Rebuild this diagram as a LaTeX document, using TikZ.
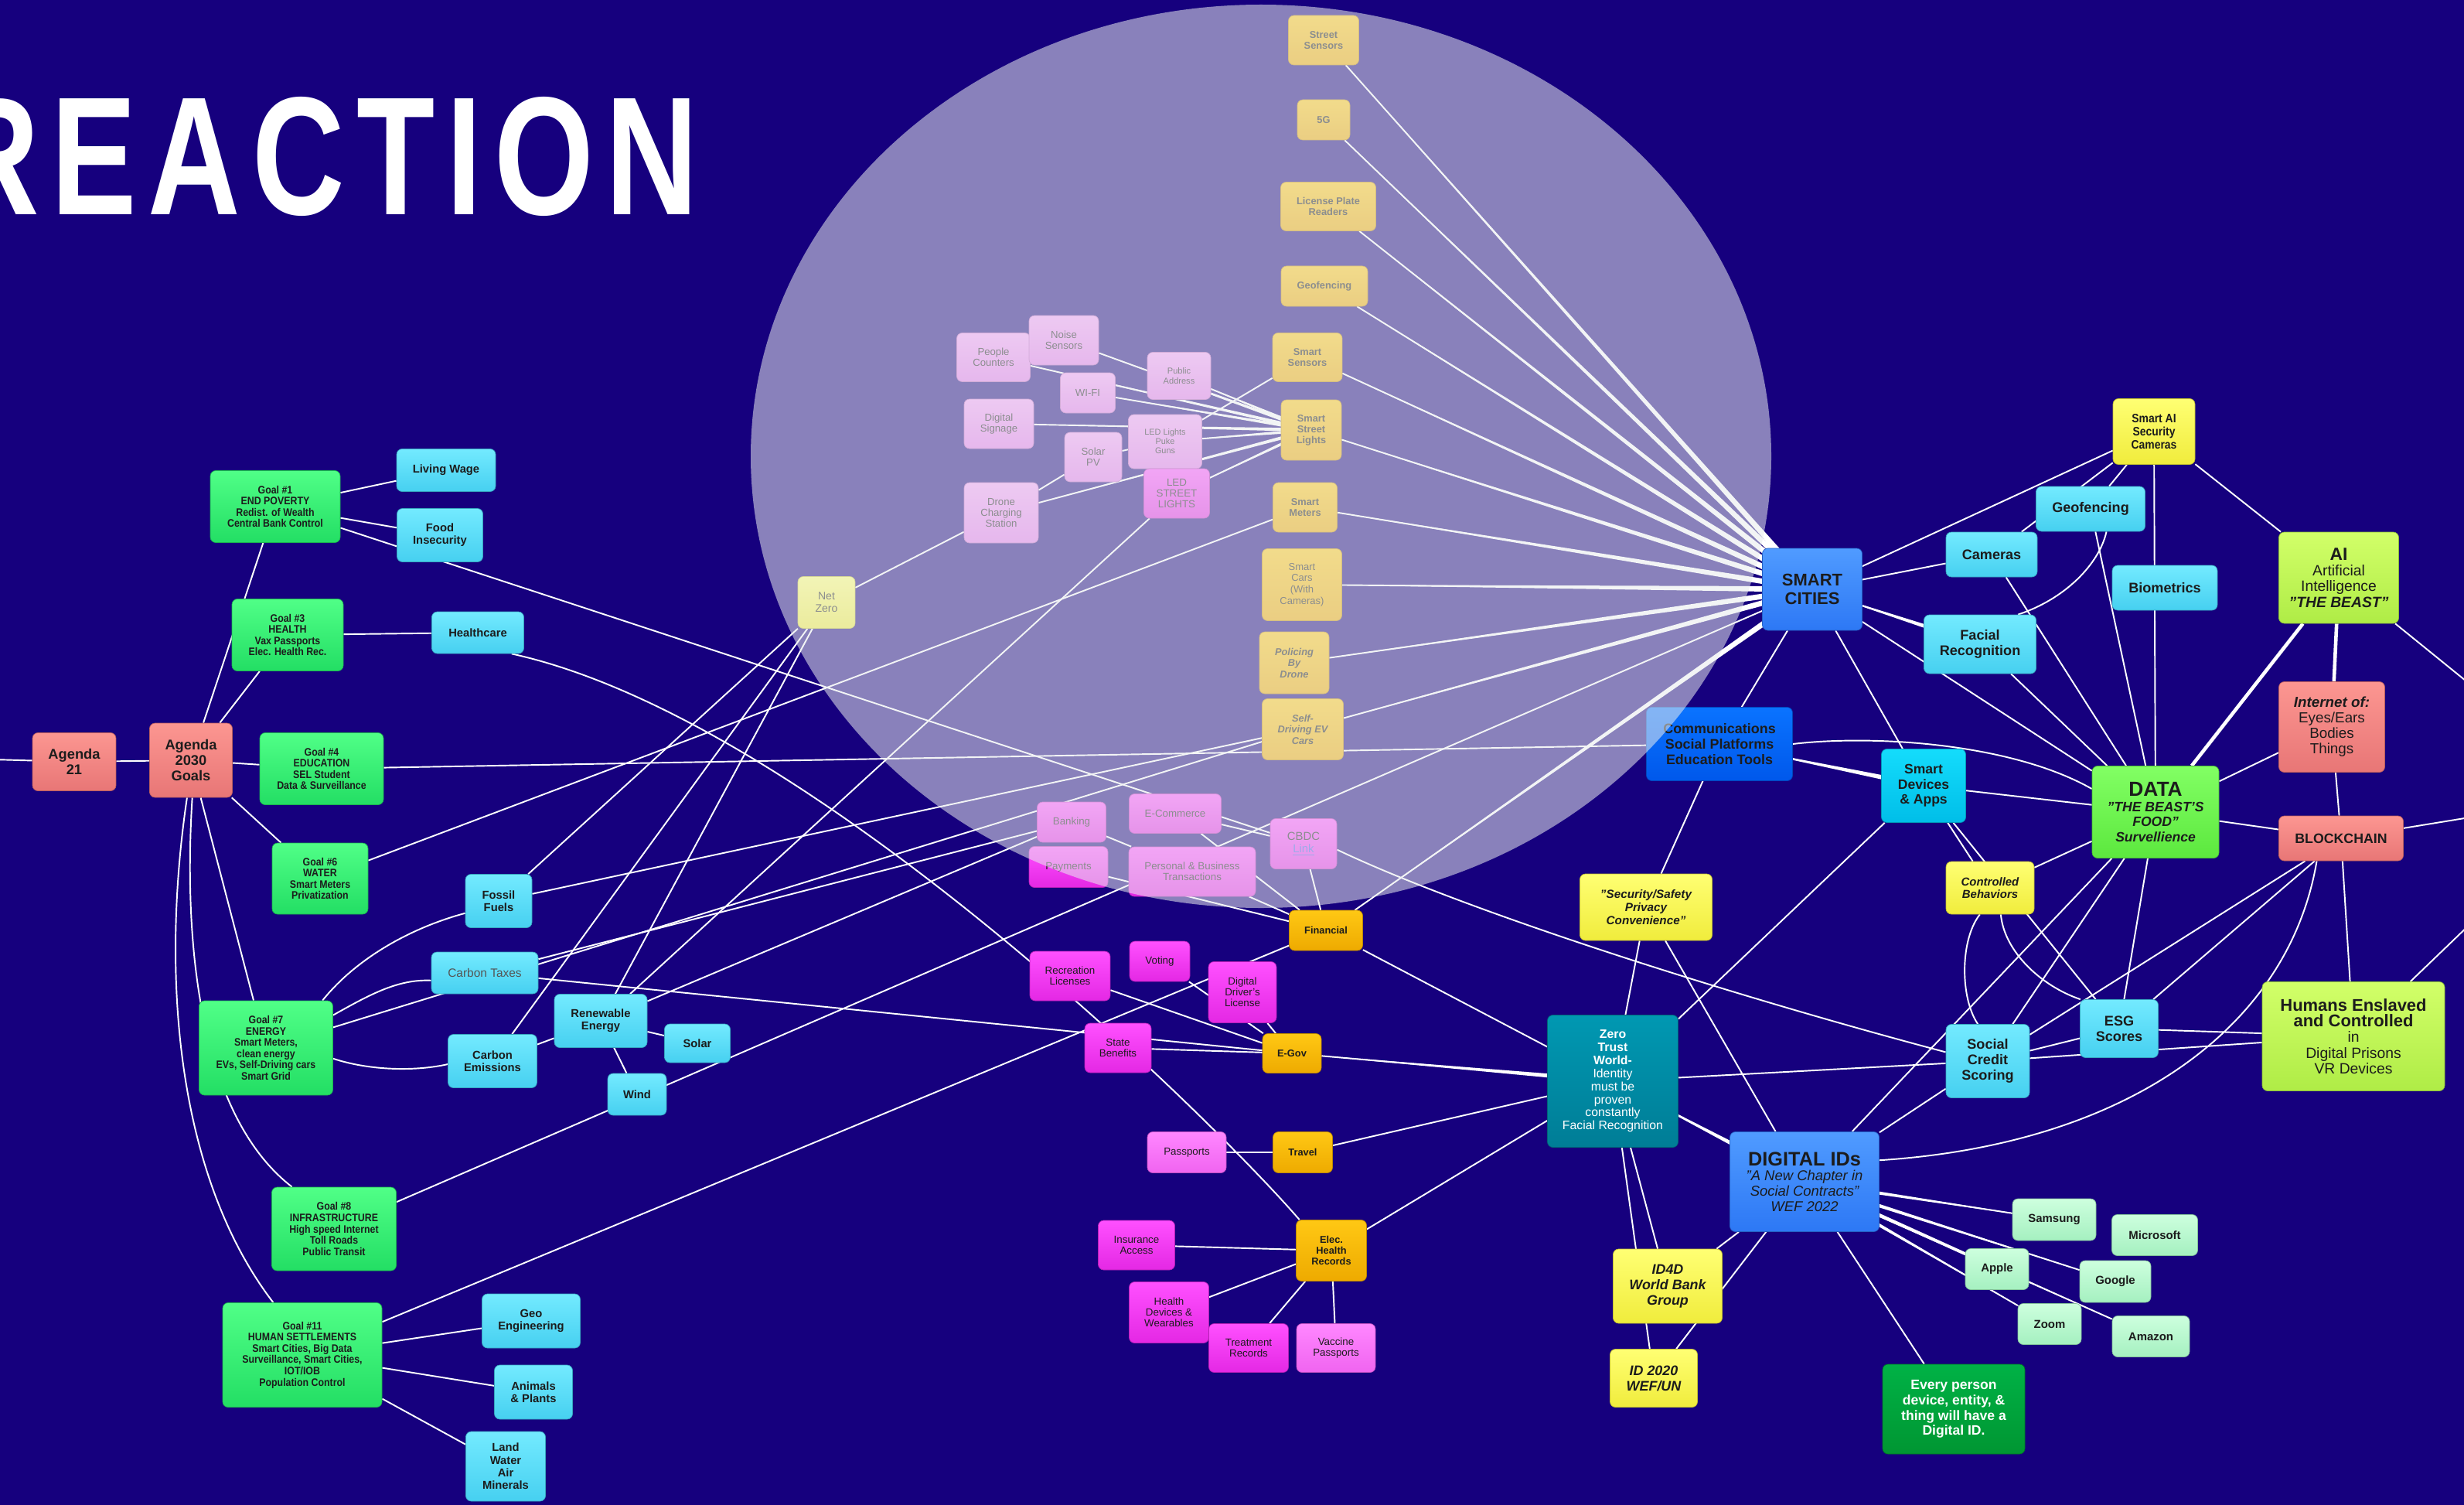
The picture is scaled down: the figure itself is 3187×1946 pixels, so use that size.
\documentclass[tikz,border=0pt]{standalone}
\usepackage{fontspec}
\setmainfont{Liberation Sans}
\newfontfamily\condfont{Liberation Sans}[FakeStretch=0.88]
\newfontfamily\titlefont{Liberation Sans}[FakeStretch=0.76,LetterSpace=7]
\usepackage{tikz}
\usetikzlibrary{calc}
\pgfdeclarelayer{canvas}
\pgfdeclarelayer{links}
\pgfdeclarelayer{front}
\pgfsetlayers{canvas,links,main,front}

\definecolor{bgblue}{RGB}{22,0,126}
\definecolor{ink}{RGB}{28,28,28}
\definecolor{goalT}{RGB}{80,255,135}
\definecolor{goalB}{RGB}{35,222,100}
\definecolor{salT}{RGB}{252,150,145}
\definecolor{salB}{RGB}{232,118,118}
\definecolor{skyT}{RGB}{115,234,255}
\definecolor{skyB}{RGB}{70,208,240}
\definecolor{goldT}{RGB}{255,200,20}
\definecolor{goldB}{RGB}{238,170,0}
\definecolor{lilT}{RGB}{245,160,248}
\definecolor{lilB}{RGB}{228,120,236}
\definecolor{magT}{RGB}{255,80,255}
\definecolor{magB}{RGB}{228,40,228}
\definecolor{roseT}{RGB}{255,135,255}
\definecolor{roseB}{RGB}{240,100,240}
\definecolor{lemT}{RGB}{255,255,115}
\definecolor{lemB}{RGB}{240,236,60}
\definecolor{limeT}{RGB}{210,255,105}
\definecolor{limeB}{RGB}{175,236,70}
\definecolor{dataT}{RGB}{130,255,100}
\definecolor{dataB}{RGB}{92,232,62}
\definecolor{royT}{RGB}{80,155,255}
\definecolor{royB}{RGB}{45,120,245}
\definecolor{comT}{RGB}{10,115,255}
\definecolor{comB}{RGB}{0,88,235}
\definecolor{devT}{RGB}{20,220,252}
\definecolor{devB}{RGB}{0,190,232}
\definecolor{tealT}{RGB}{0,152,178}
\definecolor{tealB}{RGB}{0,125,150}
\definecolor{greenT}{RGB}{0,178,70}
\definecolor{greenB}{RGB}{0,150,50}
\definecolor{mintT}{RGB}{205,255,222}
\definecolor{mintB}{RGB}{165,240,192}
\definecolor{veil}{RGB}{232,236,238}
\definecolor{linkblue}{RGB}{70,90,230}

\tikzset{
	box/.style={rounded corners=4pt, align=center, inner sep=1pt, line width=0.4pt, text=ink},
	sz/.style 2 args={minimum width=#1*0.02cm, minimum height=#2*0.02cm},
	grad/.style 2 args={top color=#1, bottom color=#2, draw=#2!80!black},
	goalbox/.style={box, grad={goalT}{goalB}, font=\condfont\bfseries\fontsize{8}{8.3}\selectfont},
	agendabox/.style={box, grad={salT}{salB}, font=\bfseries\fontsize{10.4}{11.4}\selectfont},
	skybox/.style={box, grad={skyT}{skyB}, font=\bfseries\fontsize{8.4}{9.3}\selectfont},
	skybig/.style={skybox, font=\bfseries\fontsize{10.3}{11.4}\selectfont},
	goldbox/.style={box, grad={goldT}{goldB}, font=\bfseries\fontsize{7.3}{8}\selectfont},
	lilacbox/.style={box, grad={lilT}{lilB}, font=\fontsize{7.5}{8}\selectfont},
	magbox/.style={box, grad={magT}{magB}, font=\fontsize{7.6}{8}\selectfont},
	rosebox/.style={box, grad={roseT}{roseB}, font=\fontsize{7.6}{8}\selectfont},
	lemonbox/.style={box, grad={lemT}{lemB}, font=\bfseries\itshape\fontsize{8.7}{9.7}\selectfont},
	limebox/.style={box, grad={limeT}{limeB}, font=\fontsize{11}{11.6}\selectfont},
	salmonbox/.style={box, grad={salT}{salB}},
	mintbox/.style={box, grad={mintT}{mintB}, font=\bfseries\fontsize{8.5}{9}\selectfont},
	royalbox/.style={box, grad={royT}{royB}, font=\itshape\fontsize{10.5}{11.2}\selectfont},
	edge/.style={draw=white, line width=1.1pt},
	fat/.style={edge, line width=2.6pt}
}

% thin at #2, wide at #3
\newcommand{\taper}[3][2.2pt]{%
	\fill[white] (#2.center) -- ($(#3.center)!#1!90:(#2.center)$) -- ($(#3.center)!#1!-90:(#2.center)$) -- cycle;
	\draw[edge] (#2) -- (#3);}

\begin{document}
\begin{tikzpicture}[x=0.02cm, y=-0.02cm]
		\useasboundingbox (0,0) rectangle (3187,1946);
		\begin{pgfonlayer}{canvas}
		\fill[bgblue] (0,0) rectangle (3187,1946);
		\end{pgfonlayer}
		
		\node(title) at (-69,278) [anchor=base west, inner sep=0pt, text=white, font=\titlefont\bfseries\fontsize{124}{126}\selectfont] {REACTION};
		
		% agenda and goals
		\coordinate (left_in) at (-10,982);
		\node(agenda21) at (96,985) [agendabox, sz={108}{75}] {Agenda\\21};
		\node(agenda2030) at (247,983) [agendabox, sz={107}{96}] {Agenda\\2030\\Goals};
		\node(goal1) at (356,655) [goalbox, sz={168}{93}] {Goal \#1\\END POVERTY\\Redist. of Wealth\\Central Bank Control};
		\node(goal3) at (372,821) [goalbox, sz={144}{93}] {Goal \#3\\HEALTH\\Vax Passports\\Elec. Health Rec.};
		\node(goal4) at (416,994) [goalbox, sz={160}{93}] {Goal \#4\\EDUCATION\\SEL Student\\Data \& Surveillance};
		\node(goal6) at (414,1136) [goalbox, sz={124}{92}] {Goal \#6\\WATER\\Smart Meters\\Privatization};
		\node(goal7) at (344,1355) [goalbox, sz={173}{122}] {Goal \#7\\ENERGY\\Smart Meters,\\clean energy\\EVs, Self-Driving cars\\Smart Grid};
		\node(goal8) at (432,1589) [goalbox, sz={161}{108}] {Goal \#8\\INFRASTRUCTURE\\High speed Internet\\Toll Roads\\Public Transit};
		\node(goal11) at (391,1752) [goalbox, sz={206}{135}] {Goal \#11\\HUMAN SETTLEMENTS\\Smart Cities, Big Data\\Surveillance, Smart Cities,\\IOT/IOB\\Population Control};
		
		\node(living_wage) at (577,608) [skybox, sz={128}{55}] {Living Wage};
		\node(food) at (569,692) [skybox, sz={111}{69}] {Food\\Insecurity};
		\node(healthcare) at (618,818) [skybox, sz={119}{54}] {Healthcare};
		\node(fossil) at (645,1165) [skybox, sz={86}{69}] {Fossil\\Fuels};
		\node(carbon_tax) at (627,1258) [skybox, sz={138}{54}, font=\fontsize{8.8}{9.5}\selectfont, text=ink!75] {Carbon Taxes};
		\node(carbon_em) at (637,1372) [skybox, sz={115}{69}] {Carbon\\Emissions};
		\node(renewable) at (777,1320) [skybox, sz={120}{69}] {Renewable\\Energy};
		\node(solar) at (902,1349) [skybox, sz={85}{50}] {Solar};
		\node(wind) at (824,1415) [skybox, sz={76}{54}] {Wind};
		\node(geo_eng) at (687,1708) [skybox, sz={127}{70}] {Geo\\Engineering};
		\node(animals) at (690,1800) [skybox, sz={101}{70}] {Animals\\\& Plants};
		\node(land) at (654,1896) [skybox, sz={103}{90}] {Land\\Water\\Air\\Minerals};
		\node(net_zero) at (1069,779) [lemonbox, sz={74}{67}, font=\fontsize{8}{9}\selectfont] {Net\\Zero};
		
		% smart city sensors
		\node(street_sens) at (1712,52) [goldbox, sz={91}{64}] {Street\\Sensors};
		\node(g5) at (1712,155) [goldbox, sz={68}{52}] {5G};
		\node(plate) at (1718,267) [goldbox, sz={123}{63}] {License Plate\\Readers};
		\node(geofence_a) at (1713,370) [goldbox, sz={112}{52}] {Geofencing};
		\node(smart_sens) at (1691,462) [goldbox, sz={90}{63}] {Smart\\Sensors};
		\node(street_lights) at (1696,556) [goldbox, sz={78}{78}] {Smart\\Street\\Lights};
		\node(smart_meters) at (1688,656) [goldbox, sz={83}{64}] {Smart\\Meters};
		\node(smart_cars) at (1684,756) [goldbox, sz={103}{93}, font=\fontsize{7.4}{8.3}\selectfont] {Smart\\Cars\\(With\\Cameras)};
		\node(policing) at (1674,857) [goldbox, sz={90}{80}, font=\bfseries\itshape\fontsize{7.3}{8.3}\selectfont] {Policing\\By\\Drone};
		\node(self_driving) at (1685,943) [goldbox, sz={105}{79}, font=\bfseries\itshape\fontsize{7.3}{8.3}\selectfont] {Self-\\Driving EV\\Cars};
		
		\node(people) at (1285,462) [lilacbox, sz={95}{63}] {People\\Counters};
		\node(noise) at (1376,440) [lilacbox, sz={90}{64}] {Noise\\Sensors};
		\node(wifi) at (1407,508) [lilacbox, sz={71}{52}] {WI-FI};
		\node(pub_addr) at (1525,486) [lilacbox, sz={82}{61}, font=\fontsize{6.3}{7}\selectfont] {Public\\Address};
		\node(signage) at (1292,548) [lilacbox, sz={90}{64}] {Digital\\Signage};
		\node(solar_pv) at (1414,591) [lilacbox, sz={74}{64}] {Solar\\PV};
		\node(led_guns) at (1507,571) [lilacbox, sz={95}{70}, font=\fontsize{6.2}{6.8}\selectfont] {LED Lights\\Puke\\Guns};
		\node(led_street) at (1522,638) [magbox, sz={85}{64}] {LED\\STREET\\LIGHTS};
		\node(drone) at (1295,663) [lilacbox, sz={96}{78}] {Drone\\Charging\\Station};
		
		% finance
		\node(banking) at (1386,1063) [magbox, sz={89}{52}] {Banking};
		\node(ecommerce) at (1520,1052) [magbox, sz={119}{51}] {E-Commerce};
		\node(cbdc) at (1686,1091) [magbox, sz={86}{65}, font=\fontsize{8.5}{9.5}\selectfont] {CBDC\\\textcolor{linkblue}{\underline{Link}}};
		\node(payments) at (1382,1121) [magbox, sz={102}{53}] {Payments};
		\node(transactions) at (1542,1127) [magbox, sz={164}{64}] {Personal \& Business\\Transactions};
		\node(financial) at (1715,1203) [goldbox, sz={95}{52}] {Financial};
		
		% e-gov, travel, health
		\node(recreation) at (1384,1262) [magbox, sz={104}{64}] {Recreation\\Licenses};
		\node(voting) at (1500,1243) [magbox, sz={78}{52}] {Voting};
		\node(drivers) at (1607,1283) [magbox, sz={88}{79}] {Digital\\Driver's\\License};
		\node(benefits) at (1446,1355) [magbox, sz={86}{64}] {State\\Benefits};
		\node(egov) at (1671,1362) [goldbox, sz={76}{51}] {E-Gov};
		\node(passports) at (1535,1490) [rosebox, sz={102}{53}] {Passports};
		\node(travel) at (1685,1490) [goldbox, sz={77}{53}] {Travel};
		\node(insurance) at (1470,1610) [magbox, sz={99}{64}] {Insurance\\Access};
		\node(health_rec) at (1722,1617) [goldbox, sz={91}{79}] {Elec.\\Health\\Records};
		\node(wearables) at (1512,1697) [magbox, sz={103}{79}] {Health\\Devices \&\\Wearables};
		\node(treatment) at (1615,1743) [magbox, sz={103}{63}] {Treatment\\Records};
		\node(vaccine) at (1728,1743) [rosebox, sz={102}{63}] {Vaccine\\Passports};
		
		% smart cities and digital ids
		\node(smart_cities) at (2344,762) [royalbox, sz={129}{106}, font=\bfseries\fontsize{12.5}{13.5}\selectfont] {SMART\\CITIES};
		\node(comms) at (2224,962) [box, grad={comT}{comB}, sz={189}{95}, font=\bfseries\fontsize{10.2}{11.2}\selectfont] {Communications\\Social Platforms\\Education Tools};
		\node(smart_dev) at (2488,1016) [box, grad={devT}{devB}, sz={109}{95}, font=\bfseries\fontsize{10}{11.2}\selectfont] {Smart\\Devices\\\& Apps};
		\node(security) at (2129,1173) [lemonbox, sz={171}{86}] {"Security/Safety\\Privacy\\Convenience"};
		\node(zero_trust) at (2086,1398) [box, grad={tealT}{tealB}, sz={169}{171}, text=white, font=\fontsize{9}{9.6}\selectfont] {\textbf{Zero}\\\textbf{Trust}\\\textbf{World-}\\Identity\\must be\\proven\\constantly\\Facial Recognition};
		\node(digital_ids) at (2334,1528) [royalbox, sz={193}{129}] {{\upshape\bfseries\fontsize{14.4}{15}\selectfont DIGITAL IDs}\\"A New Chapter in\\Social Contracts"\\WEF 2022};
		\node(id4d) at (2157,1663) [lemonbox, sz={141}{96}, font=\bfseries\itshape\fontsize{10.2}{11.4}\selectfont] {ID4D\\World Bank\\Group};
		\node(id2020) at (2139,1782) [lemonbox, sz={113}{75}, font=\bfseries\itshape\fontsize{10.2}{11.4}\selectfont] {ID 2020\\WEF/UN};
		\node(every) at (2527,1822) [box, grad={greenT}{greenB}, sz={184}{116}, text=white, font=\bfseries\fontsize{10}{11.2}\selectfont] {Every person\\device, entity, \&\\thing will have a\\Digital ID.};
		
		\node(behaviors) at (2574,1148) [lemonbox, sz={114}{68}, font=\bfseries\itshape\fontsize{8.5}{9.3}\selectfont] {Controlled\\Behaviors};
		\node(social_credit) at (2571,1372) [skybig, sz={108}{95}] {Social\\Credit\\Scoring};
		\node(esg) at (2741,1330) [skybig, sz={101}{75}] {ESG\\Scores};
		\node(humans) at (3044,1340) [limebox, sz={236}{141}] {{\bfseries\fontsize{12.5}{13}\selectfont Humans Enslaved}\\{\bfseries\fontsize{12.5}{13}\selectfont and Controlled}\\in\\Digital Prisons\\VR Devices};
		
		% surveillance
		\node(ai_cams) at (2786,558) [lemonbox, sz={106}{85}, font=\condfont\bfseries\fontsize{9}{9.5}\selectfont] {Smart AI\\Security\\Cameras};
		\node(geofence_b) at (2704,658) [skybig, sz={141}{58}] {Geofencing};
		\node(cameras) at (2576,717) [skybig, sz={118}{58}] {Cameras};
		\node(biometrics) at (2800,760) [skybig, sz={136}{58}] {Biometrics};
		\node(facial) at (2561,833) [skybig, sz={145}{76}] {Facial\\Recognition};
		\node(ai) at (3025,747) [limebox, sz={155}{118}] {{\bfseries\fontsize{13}{13}\selectfont AI}\\Artificial\\Intelligence\\\textbf{\textit{"THE BEAST"}}};
		\node(data) at (2788,1050) [box, grad={dataT}{dataB}, sz={164}{119}, font=\bfseries\itshape\fontsize{10}{11.3}\selectfont] {{\upshape\fontsize{15}{15}\selectfont DATA}\\"THE BEAST'S\\FOOD"\\Survellience};
		\node(iot) at (3016,940) [salmonbox, sz={137}{117}, font=\fontsize{10.7}{11.4}\selectfont] {\textbf{\textit{Internet of:}}\\Eyes/Ears\\Bodies\\Things};
		\node(blockchain) at (3028,1084) [salmonbox, sz={161}{58}, font=\bfseries\fontsize{10.1}{11}\selectfont] {BLOCKCHAIN};
		\coordinate (ai_out) at (3200,889);
		\coordinate (chain_out) at (3200,1056);
		\coordinate (humans_out) at (3200,1190);
		
		% companies
		\node(samsung) at (2657,1577) [mintbox, sz={108}{54}] {Samsung};
		\node(microsoft) at (2787,1597) [mintbox, sz={111}{53}] {Microsoft};
		\node(apple) at (2583,1641) [mintbox, sz={82}{53}] {Apple};
		\node(google) at (2736,1657) [mintbox, sz={92}{54}] {Google};
		\node(zoom) at (2651,1712) [mintbox, sz={82}{53}] {Zoom};
		\node(amazon) at (2782,1728) [mintbox, sz={100}{53}] {Amazon};
		
		\begin{pgfonlayer}{links}
		\draw[edge] (left_in) -- (agenda21);
		\draw[edge] (agenda21) -- (agenda2030);
		\draw[edge] (agenda2030) -- (goal1);
		\draw[edge] (agenda2030) -- (goal3);
		\draw[edge] (agenda2030) -- (goal4);
		\draw[edge] (agenda2030) -- (goal6);
		\draw[edge] (agenda2030) -- (goal7);
		\draw[edge] (agenda2030.272) .. controls (235,1250) and (268,1450) .. (goal8.135);
		\draw[edge] (agenda2030.264) .. controls (205,1280) and (235,1530) .. (goal11.119);
		
		\draw[edge] (goal1) -- (living_wage);
		\draw[edge] (goal1) -- (food);
		\draw[edge] (goal1) -- (cbdc);
		\draw[edge] (goal3) -- (healthcare);
		\draw[edge] (healthcare.328) .. controls (1050,930) and (1580,1460) .. (health_rec.136);
		\draw[edge] (goal4) -- (comms);
		\draw[edge] (goal6) -- (smart_meters);
		\draw[edge] (goal7.40) .. controls (460,1240) and (530,1200) .. (fossil.200);
		\draw[edge] (goal7.26) .. controls (480,1285) and (515,1266) .. (carbon_tax.188);
		\draw[edge] (goal7) -- (self_driving);
		\draw[edge] (goal7.351) .. controls (480,1385) and (540,1385) .. (carbon_em.184);
		\draw[edge] (goal8) -- (smart_cities);
		\draw[edge] (goal11) -- (geo_eng);
		\draw[edge] (goal11) -- (animals);
		\draw[edge] (goal11) -- (land);
		\draw[edge] (goal11) -- (financial);
		
		\draw[edge] (fossil) -- (net_zero);
		\draw[edge] (fossil) -- (self_driving);
		\draw[edge] (carbon_tax) -- (banking);
		\draw[edge] (carbon_tax) -- (egov);
		\draw[edge] (carbon_em) -- (net_zero);
		\draw[edge] (carbon_em) -- (renewable);
		\draw[edge] (renewable) -- (net_zero);
		\draw[edge] (renewable) -- (led_street);
		\draw[edge] (renewable) -- (banking);
		\draw[edge] (renewable) -- (solar);
		\draw[edge] (renewable) -- (wind);
		\draw[edge] (net_zero) -- (drone);
		
		\draw[edge] (drone) -- (solar_pv);
		\draw[edge] (solar_pv) -- (led_guns);
		\draw[edge] (smart_sens) -- (led_guns);
		\taper[1.3pt]{drone}{street_lights}
		\taper[1.3pt]{people}{street_lights}
		\taper[1.3pt]{noise}{street_lights}
		\taper[1.3pt]{wifi}{street_lights}
		\taper[1.3pt]{pub_addr}{street_lights}
		\taper[1.3pt]{signage}{street_lights}
		\taper[1.3pt]{led_guns}{street_lights}
		\taper[1.3pt]{led_street}{street_lights}
		
		\taper{street_sens}{smart_cities}
		\taper{g5}{smart_cities}
		\taper{plate}{smart_cities}
		\taper{geofence_a}{smart_cities}
		\taper{smart_sens}{smart_cities}
		\taper{street_lights}{smart_cities}
		\taper{smart_meters}{smart_cities}
		\taper{smart_cars}{smart_cities}
		\taper{policing}{smart_cities}
		\taper{self_driving}{smart_cities}
		\taper{financial}{smart_cities}
		
		\draw[edge] (ecommerce) -- (financial);
		\draw[edge] (ecommerce) -- (cbdc);
		\draw[edge] (cbdc) -- (financial);
		\draw[edge] (banking) -- (transactions);
		\draw[edge] (payments) -- (financial);
		\draw[edge] (transactions) -- (financial);
		\draw[edge] (cbdc.-10) .. controls (1900,1180) and (2250,1290) .. (social_credit.168);
		\draw[edge] (financial) -- (zero_trust);
		
		\draw[edge] (voting) -- (egov);
		\draw[edge] (drivers) -- (egov);
		\draw[edge] (recreation) -- (egov);
		\draw[edge] (benefits) -- (egov);
		\taper[1.8pt]{egov}{zero_trust}
		\draw[edge] (passports) -- (travel);
		\draw[edge] (travel) -- (zero_trust);
		\draw[edge] (health_rec) -- (zero_trust);
		\draw[edge] (insurance) -- (health_rec);
		\draw[edge] (wearables) -- (health_rec);
		\draw[edge] (treatment) -- (health_rec);
		\draw[edge] (vaccine) -- (health_rec);
		
		\taper{zero_trust}{digital_ids}
		\draw[edge] (zero_trust) -- (id4d);
		\draw[edge] (zero_trust) -- (id2020);
		\draw[edge] (zero_trust) -- (security);
		\draw[edge] (zero_trust) -- (smart_dev);
		\draw[edge] (zero_trust) -- (social_credit);
		\draw[edge] (security) -- (comms);
		\draw[edge] (security) -- (digital_ids);
		
		\draw[edge] (comms) -- (smart_cities);
		\taper[2pt]{comms}{smart_dev}
		\draw[edge] (comms.east) .. controls (2420,950) and (2600,960) .. (data.160);
		\draw[edge] (smart_cities) -- (smart_dev);
		\draw[edge] (smart_cities) -- (ai_cams);
		\draw[edge] (smart_cities) -- (cameras);
		\taper[2pt]{smart_cities}{facial}
		\draw[edge] (smart_cities) -- (data);
		
		\draw[edge] (ai_cams) -- (geofence_b);
		\draw[edge] (ai_cams) -- (cameras);
		\draw[edge] (ai_cams) -- (data);
		\draw[edge] (ai_cams) -- (ai);
		\draw[edge] (geofence_b.305) .. controls (2715,730) and (2670,775) .. (facial.38);
		\draw[edge] (geofence_b) -- (data);
		\draw[edge] (cameras) -- (data);
		\draw[edge] (facial) -- (data);
		\draw[fat] (ai) -- (data);
		\draw[fat] (ai) -- (iot);
		\draw[edge] (iot) -- (data);
		\draw[edge] (iot) -- (blockchain);
		\draw[edge] (blockchain) -- (data);
		\draw[edge] (ai) -- (ai_out);
		\draw[edge] (blockchain) -- (chain_out);
		\draw[edge] (humans) -- (humans_out);
		
		\draw[edge] (smart_dev) -- (data);
		\draw[edge] (smart_dev) -- (behaviors);
		\draw[edge] (smart_dev) -- (esg);
		\draw[edge] (behaviors) -- (data);
		\draw[edge] (behaviors.249) .. controls (2535,1215) and (2535,1290) .. (social_credit.105);
		\draw[edge] (behaviors.292) .. controls (2592,1230) and (2640,1275) .. (esg.143);
		\draw[edge] (social_credit) -- (data);
		\draw[edge] (social_credit) -- (blockchain);
		\draw[edge] (social_credit) -- (esg);
		\draw[edge] (social_credit) -- (humans);
		\draw[edge] (esg) -- (data);
		\draw[edge] (esg) -- (blockchain);
		\draw[edge] (esg) -- (humans);
		\draw[edge] (blockchain) -- (humans);
		
		\draw[edge] (digital_ids) -- (data);
		\draw[edge] (digital_ids) -- (social_credit);
		\draw[edge] (digital_ids.16) .. controls (2750,1480) and (2960,1330) .. (blockchain.223);
		\draw[edge] (digital_ids) -- (every);
		\draw[edge] (digital_ids) -- (id4d);
		\draw[edge] (digital_ids) -- (id2020);
		\taper[1.6pt]{samsung}{digital_ids}
		\taper[1.6pt]{apple}{digital_ids}
		\taper[1.6pt]{google}{digital_ids}
		\taper[1.6pt]{zoom}{digital_ids}
		\taper[1.6pt]{amazon}{digital_ids}
		\end{pgfonlayer}
		
		\begin{pgfonlayer}{front}
		\fill[veil, opacity=0.55] (1631,590) ellipse [x radius=660, y radius=584];
		\end{pgfonlayer}
\end{tikzpicture}
\end{document}
